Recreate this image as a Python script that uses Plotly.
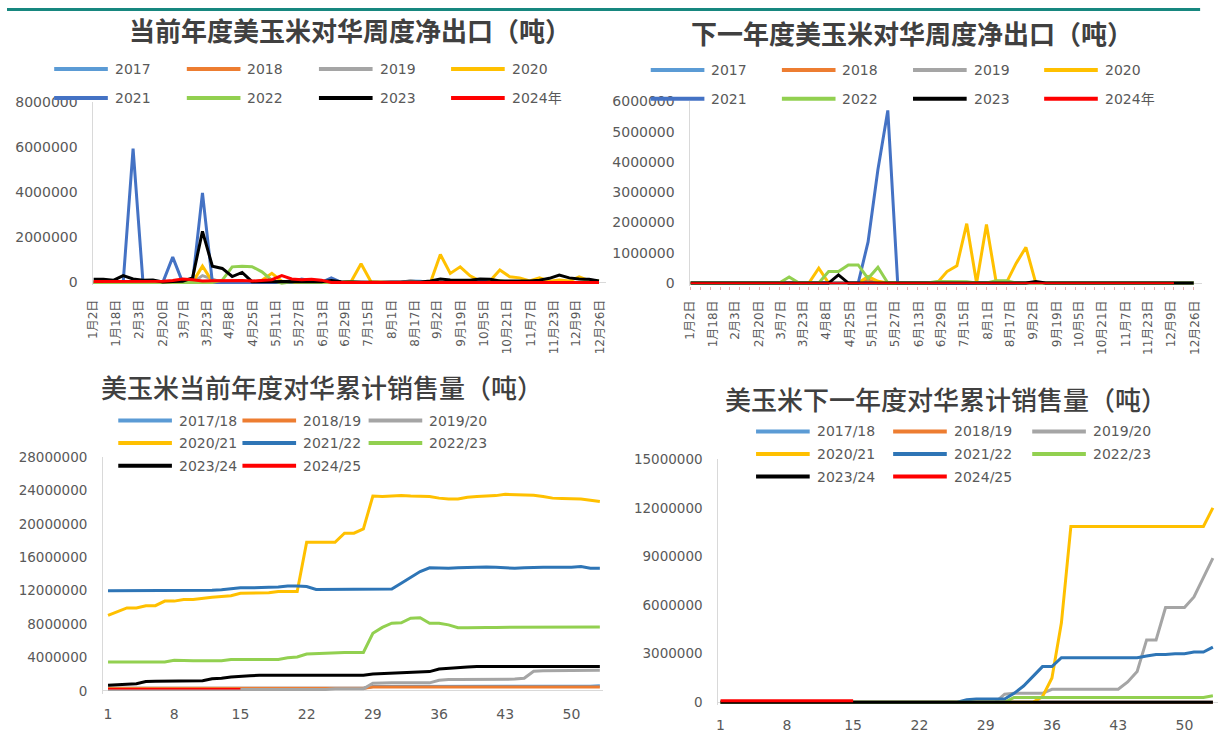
import re
import pandas as pd
import plotly.graph_objects as go

W, H = 1219, 739

# ------------------------------------------------------------------ data
DATE_LABELS = ["1月2日", "1月18日", "2月3日", "2月20日", "3月7日", "3月23日", "4月8日",
               "4月25日", "5月11日", "5月27日", "6月13日", "6月29日", "7月15日", "8月1日",
               "8月17日", "9月2日", "9月19日", "10月5日", "10月21日", "11月7日", "11月23日",
               "12月9日", "12月26日"]
WEEK_TICKS = [1, 8, 15, 22, 29, 36, 43, 50]
YEARS = ["2017", "2018", "2019", "2020", "2021", "2022", "2023", "2024年"]
SEASONS = ["2017/18", "2018/19", "2019/20", "2020/21", "2021/22", "2022/23", "2023/24", "2024/25"]
FIRST_WEEK = "2023-01-02"

# weekly net exports, current marketing year (tonnes), 52 weeks
W_CUR_2017 = [0, 0, 0, 0, 0, 0, 0, 0, 0, 0, 0, 0, 0, 0, 0, 0, 0, 0, 0, 0,
              100000, 120000, 0, 0, 0, 0, 0, 0, 0, 0, 0, 0, 60000, 50000, 0, 0, 0, 0, 0, 0,
              0, 0, 0, 0, 0, 0, 0, 0, 0, 0, 0, 0]
W_CUR_2018 = [0, 0, 0, 0, 0, 0, 0, 0, 0, 0, 0, 0, 60000, 0, 0, 0, 0, 0, 0, 0,
              0, 0, 0, 0, 0, 0, 0, 0, 0, 0, 0, 0, 0, 0, 0, 0, 0, 0, 0, 0,
              50000, 0, 0, 0, 0, 0, 0, 0, 0, 0, 0, 0]
W_CUR_2019 = [0, 0, 0, 0, 0, 0, 0, 0, 0, 0, 0, 300000, 150000, 0, 0, 0, 0, 0, 0, 0,
              0, 0, 0, 0, 0, 0, 0, 0, 0, 0, 0, 0, 80000, 0, 0, 0, 0, 0, 0, 0,
              0, 0, 0, 0, 0, 0, 0, 0, 0, 0, 0, 0]
W_CUR_2020 = [0, 0, 0, 0, 0, 0, 0, 0, 0, 0, 0, 720000, 40000, 0, 0, 0, 0, 100000, 400000, 50000,
              0, 0, 0, 0, 0, 0, 40000, 830000, 30000, 0, 0, 0, 0, 0, 0, 1240000, 400000, 690000, 290000, 60000,
              60000, 550000, 250000, 200000, 60000, 200000, 50000, 100000, 60000, 250000, 80000, 50000]
W_CUR_2021 = [0, 0, 0, 0, 5940000, 0, 0, 0, 1120000, 0, 0, 3980000, 0, 0, 0, 0, 0, 0, 0, 0,
              0, 150000, 60000, 0, 200000, 0, 0, 0, 0, 0, 0, 0, 0, 0, 0, 0, 0, 0, 0, 80000,
              0, 0, 0, 0, 0, 0, 0, 0, 0, 0, 0, 0]
W_CUR_2022 = [0, 0, 0, 0, 0, 0, 0, 0, 0, 0, 0, 0, 0, 100000, 690000, 720000, 700000, 470000, 100000, -40000,
              30000, 0, 0, 0, 0, 0, 40000, 0, 0, 0, 0, 0, 0, 0, 0, 0, 0, 0, 0, 0,
              0, 80000, 0, 0, 0, 0, 0, 0, 0, 0, 70000, 60000]
W_CUR_2023 = [140000, 140000, 90000, 300000, 150000, 100000, 110000, 20000, 40000, 50000,
              200000, 2270000, 720000, 620000, 260000, 440000, 30000, 20000, 30000, 40000,
              30000, 40000, 20000, 30000, 80000, 30000, 20000, 10000, 10000, 10000,
              20000, 10000, 20000, 20000, 60000, 150000, 110000, 90000, 100000, 150000,
              140000, 60000, 50000, 60000, 60000, 100000, 180000, 330000, 200000, 150000,
              140000, 60000]
W_CUR_2024 = [40000, 40000, 40000, 30000, 40000, 30000, 40000, 50000, 80000, 150000,
              120000, 60000, 70000, 80000, 90000, 80000, 60000, 80000, 120000, 300000,
              150000, 120000, 140000, 100000, 0, 0, 0, 0, 0, 0, 0, 0, 0, 0, 0, 0, 0, 0, 0, 0,
              0, 0, 0, 0, 0, 0, 0, 0, 0, 0, 0, 0]

# weekly net exports, next marketing year (tonnes), 52 weeks
W_NXT_2017 = [0, 0, 0, 0, 0, 0, 0, 0, 0, 0, 0, 0, 0, 0, 0, 0, 0, 0, 0, 0,
              0, 0, 0, 0, 0, 0, 0, 0, 0, 0, 0, 0, 0, 0, 0, 0, 0, 0, 0, 0,
              0, 0, 0, 0, 0, 0, 0, 0, 0, 0, 0, 0]
W_NXT_2018 = [0, 0, 0, 0, 0, 0, 0, 0, 0, 0, 0, 0, 0, 0, 0, 0, 0, 0, 100000, 0,
              0, 0, 0, 0, 0, 0, 0, 0, 0, 0, 0, 0, 0, 0, 0, 0, 0, 0, 0, 0,
              0, 0, 0, 0, 0, 0, 0, 0, 0, 0, 0, 0]
W_NXT_2019 = [0, 0, 0, 0, 0, 0, 0, 0, 0, 0, 0, 0, 0, 0, 0, 0, 0, 0, 0, 0,
              0, 0, 0, 0, 0, 30000, 0, 0, 0, 0, 0, 0, 0, 0, 0, 0, 0, 0, 0, 0,
              0, 0, 0, 0, 0, 0, 0, 0, 0, 0, 0, 0]
W_NXT_2020 = [0, 0, 0, 0, 0, 0, 0, 0, 0, 0, 0, 0, 0, 490000, 0, 0, 0, 0, 220000, 60000,
              0, 0, 0, 0, 0, 0, 380000, 570000, 1960000, 0, 1930000, 0, 0, 650000, 1180000, 0, 0, 0, 0, 0,
              0, 0, 0, 0, 0, 0, 0, 0, 0, 0, 0, 0]
W_NXT_2021 = [0, 0, 0, 0, 0, 0, 0, 0, 0, 0, 0, 0, 0, 0, 0, 0, 0, 0, 1360000, 3750000,
              5700000, 0, 0, 0, 0, 0, 0, 0, 0, 0, 0, 0, 0, 0, 0, 0, 0, 0, 0, 0,
              0, 0, 0, 0, 0, 0, 0, 0, 0, 0, 0, 0]
W_NXT_2022 = [0, 0, 0, 0, 0, 0, 0, 0, 0, 0, 200000, 0, 0, 0, 380000, 380000, 600000, 600000, 150000, 520000,
              0, 0, 0, 0, 0, 50000, 50000, 50000, 40000, 0, 0, 80000, 80000, 0, 0, 0, 0, 0, 0, 0,
              0, 0, 0, 0, 0, 0, 0, 0, 0, 0, 0, 0]
W_NXT_2023 = [0, 0, 0, 0, 0, 0, 0, 0, 0, 0, 0, 0, 0, 0, 0, 270000, 0, 0, 0, 0,
              0, 0, 0, 0, 0, 0, 0, 0, 0, 0, 0, 0, 0, 0, 0, 50000, 0, 0, 0, 0,
              0, 0, 0, 0, 0, 0, 0, 0, 0, 0, 0, 0]
W_NXT_2024 = [0, 0, 0, 0, 0, 0, 0, 0, 0, 0, 0, 0, 0, 0, 0, 0, 0, 0, 0, 0,
              0, 0, 0, 0, 0, 0, 0, 0, 0, 0, 0, 0, 0, 0, 0, 0, 0, 0, 0, 0,
              0, 0, 0, 0, 0, 0, 0, 0, 0, 0, None, None]

# cumulative sales, current marketing year (tonnes), weeks 1..53
C_CUR_2017 = [300000, 300000, 300000, 300000, 300000, 300000, 300000, 300000, 300000, 300000,
              300000, 300000, 300000, 300000, 300000, 300000, 300000, 300000, 300000, 300000,
              300000, 300000, 300000, 300000, 300000, 300000, 300000, 300000, 500000, 500000,
              500000, 500000, 500000, 500000, 500000, 500000, 500000, 500000, 500000, 500000,
              500000, 500000, 500000, 500000, 500000, 500000, 500000, 500000, 500000, 500000,
              500000, 550000, 600000]
C_CUR_2018 = [300000, 300000, 300000, 300000, 300000, 300000, 300000, 300000, 300000, 300000,
              300000, 300000, 300000, 300000, 300000, 300000, 300000, 300000, 300000, 300000,
              300000, 300000, 300000, 300000, 300000, 300000, 300000, 300000, 450000, 450000,
              450000, 450000, 450000, 450000, 450000, 450000, 450000, 450000, 450000, 450000,
              450000, 450000, 450000, 450000, 450000, 450000, 450000, 450000, 450000, 450000,
              450000, 450000, 450000]
C_CUR_2019 = [150000, 150000, 150000, 150000, 150000, 150000, 150000, 150000, 150000, 150000,
              150000, 150000, 150000, 150000, 150000, 150000, 150000, 150000, 150000, 150000,
              150000, 150000, 150000, 150000, 250000, 250000, 250000, 250000, 900000, 950000,
              950000, 950000, 950000, 950000, 950000, 1250000, 1350000, 1350000, 1350000, 1350000,
              1350000, 1350000, 1350000, 1400000, 1500000, 2350000, 2400000, 2400000, 2400000, 2400000,
              2400000, 2400000, 2450000]
C_CUR_2020 = [9030000, 9450000, 9940000, 9940000, 10200000, 10200000, 10750000, 10750000, 10950000, 10950000,
              11100000, 11200000, 11300000, 11400000, 11700000, 11700000, 11700000, 11750000, 11900000, 11900000,
              11900000, 17800000, 17800000, 17800000, 17800000, 18900000, 18900000, 19400000, 23350000, 23300000,
              23350000, 23400000, 23350000, 23300000, 23300000, 23100000, 23000000, 23000000, 23200000, 23300000,
              23350000, 23400000, 23550000, 23500000, 23500000, 23450000, 23300000, 23100000, 23050000, 23050000,
              23000000, 22850000, 22700000]
C_CUR_2021 = [12000000, 12000000, 12000000, 12000000, 12000000, 12000000, 12000000, 12000000, 12000000, 12000000,
              12000000, 12050000, 12100000, 12200000, 12350000, 12350000, 12350000, 12400000, 12450000, 12550000,
              12550000, 12500000, 12150000, 12150000, 12200000, 12200000, 12200000, 12200000, 12200000, 12200000,
              12200000, 12900000, 13600000, 14300000, 14750000, 14700000, 14700000, 14750000, 14800000, 14850000,
              14850000, 14800000, 14750000, 14700000, 14750000, 14800000, 14800000, 14800000, 14800000, 14800000,
              14900000, 14700000, 14700000]
C_CUR_2022 = [3450000, 3450000, 3450000, 3450000, 3450000, 3450000, 3450000, 3650000, 3600000, 3600000,
              3600000, 3600000, 3600000, 3750000, 3750000, 3750000, 3750000, 3750000, 3750000, 3950000,
              4050000, 4400000, 4450000, 4500000, 4600000, 4600000, 4600000, 4600000, 6900000, 7600000,
              8100000, 8150000, 8700000, 8750000, 8100000, 8100000, 7900000, 7550000, 7550000, 7600000,
              7600000, 7600000, 7600000, 7650000, 7650000, 7650000, 7650000, 7650000, 7650000, 7650000,
              7650000, 7650000, 7650000]
C_CUR_2023 = [650000, 750000, 780000, 850000, 1100000, 1150000, 1150000, 1150000, 1150000, 1150000,
              1200000, 1450000, 1500000, 1650000, 1750000, 1800000, 1850000, 1850000, 1900000, 1900000,
              1900000, 1850000, 1850000, 1850000, 1850000, 1850000, 1850000, 1850000, 2000000, 2050000,
              2100000, 2200000, 2250000, 2250000, 2300000, 2600000, 2700000, 2750000, 2850000, 2900000,
              2900000, 2900000, 2900000, 2900000, 2900000, 2900000, 2900000, 2900000, 2900000, 2900000,
              2900000, 2900000, 2900000]
C_CUR_2024 = [250000, 250000, 250000, 250000, 250000, 250000, 250000, 250000, 250000, 250000,
              250000, 250000, 250000, 250000, 250000]

# cumulative sales, next marketing year (tonnes), weeks 1..53
C_NXT_2017 = [0, 0, 0, 0, 0, 0, 0, 0, 0, 0, 0, 0, 0, 0, 0, 0, 0, 0, 0, 0,
              0, 0, 0, 0, 0, 0, 0, 0, 0, 0, 0, 0, 0, 0, 0, 0, 0, 0, 0, 0,
              0, 0, 0, 0, 0, 0, 0, 0, 0, 0, 0, 0, 0]
C_NXT_2018 = [0, 0, 0, 0, 0, 0, 0, 0, 0, 0, 0, 0, 0, 0, 0, 0, 0, 0, 0, 0,
              0, 0, 0, 0, 0, 0, 0, 0, 0, 0, 0, 0, 0, 0, 0, 0, 0, 0, 0, 0,
              0, 0, 0, 0, 0, 0, 0, 0, 0, 0, 0, 0, 0]
C_NXT_2019 = [0, 0, 0, 0, 0, 0, 0, 0, 0, 0, 0, 0, 0, 0, 0, 0, 0, 0, 0, 0,
              0, 0, 0, 0, 0, 0, 0, 0, 0, 0, 500000, 550000, 550000, 550000, 550000, 800000, 800000, 800000, 800000, 800000,
              800000, 800000, 800000, 1250000, 1900000, 3850000, 3850000, 5850000, 5850000, 5850000,
              6500000, 7700000, 8900000]
C_NXT_2020 = [0, 0, 0, 0, 0, 0, 0, 0, 0, 0, 0, 0, 0, 0, 0, 0, 0, 0, 0, 0,
              0, 0, 0, 0, 0, 0, 0, 0, 0, 0, 0, 0, 0, 0, 350000, 1500000, 4900000, 10850000, 10850000, 10850000,
              10850000, 10850000, 10850000, 10850000, 10850000, 10850000, 10850000, 10850000, 10850000, 10850000,
              10850000, 10850000, 12000000]
C_NXT_2021 = [0, 0, 0, 0, 0, 0, 0, 0, 0, 0, 0, 0, 0, 0, 0, 0, 0, 0, 0, 0,
              0, 0, 0, 0, 0, 0, 150000, 200000, 200000, 200000, 200000, 550000, 1000000, 1600000, 2200000, 2200000,
              2750000, 2750000, 2750000, 2750000, 2750000, 2750000, 2750000, 2750000, 2750000, 2850000,
              2950000, 2950000, 3000000, 3000000, 3100000, 3100000, 3400000]
C_NXT_2022 = [0, 0, 0, 0, 0, 0, 0, 0, 0, 0, 0, 0, 0, 0, 0, 0, 0, 0, 0, 0,
              0, 0, 0, 0, 0, 0, 0, 0, 0, 0, 0, 300000, 300000, 300000, 300000, 300000, 300000, 300000, 300000, 300000,
              300000, 300000, 300000, 300000, 300000, 300000, 300000, 300000, 300000, 300000,
              300000, 300000, 400000]
C_NXT_2023 = [0, 0, 0, 0, 0, 0, 0, 0, 0, 0, 0, 0, 0, 0, 0, 0, 0, 0, 0, 0,
              0, 0, 0, 0, 0, 0, 0, 0, 0, 0, 0, 0, 0, 0, 0, 0, 0, 0, 0, 0,
              0, 0, 0, 0, 0, 0, 0, 0, 0, 0, 0, 0, 0]
C_NXT_2024 = [100000, 100000, 100000, 100000, 100000, 100000, 100000, 100000, 100000, 100000,
              100000, 100000, 100000, 100000, 100000]

# ------------------------------------------------------------------ styles
COLORS = ["#5B9BD5", "#ED7D31", "#A5A5A5", "#FFC000", "#4472C4", "#92D050", "#000000", "#FF0000"]
COLORS_CUM = ["#5B9BD5", "#ED7D31", "#A5A5A5", "#FFC000", "#2E75B6", "#92D050", "#000000", "#FF0000"]
FONT = "DejaVu Sans, Noto Sans CJK SC, sans-serif"
CJK = "Noto Sans CJK SC, sans-serif"
GREY_TXT = "#595959"
AXIS_LINE = "#D9D9D9"


def px(x):
    return x / W


def py(y):
    return 1 - y / H


WEEK_DATES = pd.date_range(FIRST_WEEK, periods=52, freq="7D")


def label_to_date(lbl):
    m, d = re.match(r"(\d+)月(\d+)日", lbl).groups()
    return pd.Timestamp(year=2023, month=int(m), day=int(d))


TICK_DATES = [label_to_date(s) for s in DATE_LABELS]
WEEK_NUMS = list(range(1, 54))

fig = go.Figure()

panels = [
    ("x", "y", WEEK_DATES, [W_CUR_2017, W_CUR_2018, W_CUR_2019, W_CUR_2020, W_CUR_2021, W_CUR_2022, W_CUR_2023, W_CUR_2024], YEARS, COLORS, [3, 3, 3, 3, 3, 3, 3, 3]),
    ("x2", "y2", WEEK_DATES, [W_NXT_2017, W_NXT_2018, W_NXT_2019, W_NXT_2020, W_NXT_2021, W_NXT_2022, W_NXT_2023, W_NXT_2024], YEARS, COLORS, [3, 3, 3, 3, 3, 3, 3, 1.6]),
    ("x3", "y3", WEEK_NUMS, [C_CUR_2017, C_CUR_2018, C_CUR_2019, C_CUR_2020, C_CUR_2021, C_CUR_2022, C_CUR_2023, C_CUR_2024], SEASONS, COLORS_CUM, [3, 3, 3, 3, 3, 3, 3, 1.6]),
    ("x4", "y4", WEEK_NUMS, [C_NXT_2017, C_NXT_2018, C_NXT_2019, C_NXT_2020, C_NXT_2021, C_NXT_2022, C_NXT_2023, C_NXT_2024], SEASONS, COLORS_CUM, [3, 3, 3, 3, 3, 3, 3, 3]),
]

for xa, ya, xs, series, names, cols, widths in panels:
    for ys, nm, c, w in zip(series, names, cols, widths):
        fig.add_trace(go.Scatter(x=list(xs)[:len(ys)], y=ys, name=nm, mode="lines",
                                 line=dict(color=c, width=w), xaxis=xa, yaxis=ya,
                                 showlegend=False, hoverinfo="x+y+name"))


def yaxis_cfg(anchor, y_zero, y_top, vmax, dtick, size, pad=3):
    per_px = vmax / (y_zero - y_top)
    return dict(anchor=anchor, domain=[py(y_zero + pad), py(y_top)],
                range=[-pad * per_px, vmax], dtick=dtick, tick0=0, tickformat="d",
                showgrid=False, zeroline=True, zerolinecolor=AXIS_LINE, zerolinewidth=1,
                showline=True, linecolor=AXIS_LINE, linewidth=1, ticks="",
                tickfont=dict(family=FONT, size=size, color=GREY_TXT),
                ticklabelstandoff=12)


common_date_x = dict(type="date", tickmode="array", tickvals=TICK_DATES, ticktext=DATE_LABELS,
                     tickangle=-90, showgrid=False, zeroline=False, showline=False,
                     tickfont=dict(family=FONT, size=12, color=GREY_TXT))

fig.update_layout(
    width=W, height=H, margin=dict(l=0, r=0, t=0, b=0),
    paper_bgcolor="white", plot_bgcolor="white",
    font=dict(family=FONT, color=GREY_TXT),
    xaxis=dict(anchor="y", domain=[px(87), px(603)], range=["2023-01-02", "2023-12-30"],
               ticks="", ticklabelstandoff=11, **common_date_x),
    yaxis=yaxis_cfg("x", 279.3, 96, 8000000, 2000000, 14),
    xaxis2=dict(anchor="y2", domain=[px(688), px(1203)], range=["2023-01-02", "2023-12-31"],
                ticks="", ticklabelstandoff=11,
                minor=dict(ticks="outside", ticklen=3, tickcolor="#E6AFAF",
                           dtick=7 * 86400000, tick0=FIRST_WEEK, showgrid=False),
                **common_date_x),
    yaxis2=yaxis_cfg("x2", 280, 95, 6000000, 1000000, 14),
    xaxis3=dict(anchor="y3", domain=[px(96.7), px(600)], range=[0.475, 53.34],
                tickmode="array", tickvals=WEEK_TICKS, showgrid=False, zeroline=False,
                showline=False, ticks="", ticklabelstandoff=10,
                tickfont=dict(family=FONT, size=14, color=GREY_TXT)),
    yaxis3=yaxis_cfg("x3", 695, 457.3, 28000000, 4000000, 13.5),
    xaxis4=dict(anchor="y4", domain=[px(716), 1.0], range=[0.76, 53.54],
                tickmode="array", tickvals=WEEK_TICKS, showgrid=False, zeroline=False,
                showline=False, ticks="", ticklabelstandoff=10,
                tickfont=dict(family=FONT, size=14, color=GREY_TXT)),
    yaxis4=yaxis_cfg("x4", 706.7, 459.3, 15000000, 3000000, 13.5),
)

# top teal rule
fig.add_shape(type="line", xref="paper", yref="paper", x0=0, x1=px(1201), y0=py(1.5), y1=py(1.5),
              line=dict(color="#17877F", width=3), layer="above")

# titles
TITLES = [
    ("当前年度美玉米对华周度净出口（吨）", 345, 21.5, 700),
    ("下一年度美玉米对华周度净出口（吨）", 911, 25, 700),
    ("美玉米当前年度对华累计销售量（吨）", 317, 385, 500),
    ("美玉米下一年度对华累计销售量（吨）", 945, 398, 500),
]
for text, cx, cy, wt in TITLES:
    fig.add_annotation(text=text, x=px(cx), y=py(cy), xref="paper", yref="paper",
                       xanchor="center", yanchor="middle", showarrow=False,
                       font=dict(family=CJK, size=26, color="#404040", weight=wt))

# legends (drawn as line samples + text)
LEGEND_LAYOUT = [
    (YEARS, COLORS, [47.5, 181, 314, 447], [62, 91.5]),
    (YEARS, COLORS, [648, 780, 912, 1044], [63, 92.3]),
    (SEASONS, COLORS_CUM, [112, 237, 364], [420, 442.7, 466]),
    (SEASONS, COLORS_CUM, [754, 892, 1032], [431, 454, 477]),
]
for names, cols, xcols, yrows in LEGEND_LAYOUT:
    ncol = len(xcols)
    for i, (nm, c) in enumerate(zip(names, cols)):
        x0 = xcols[i % ncol]
        y0 = yrows[i // ncol]
        fig.add_shape(type="line", xref="paper", yref="paper", x0=px(x0), x1=px(x0 + 54),
                      y0=py(y0), y1=py(y0), line=dict(color=c, width=4), layer="above")
        fig.add_annotation(text=nm, x=px(x0 + 59), y=py(y0), xref="paper", yref="paper",
                           xanchor="left", yanchor="middle", showarrow=False,
                           font=dict(family=FONT, size=14, color=GREY_TXT))

fig.write_html("out.html", config={"displayModeBar": False},
               post_script="document.body.style.margin='0';document.body.style.overflow='hidden';")
